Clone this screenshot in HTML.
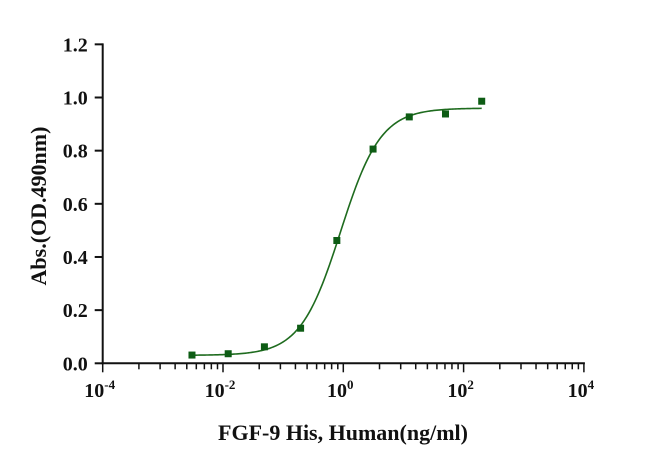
<!DOCTYPE html>
<html><head><meta charset="utf-8"><style>
html,body{margin:0;padding:0;background:#fff;}
svg text{font-family:"Liberation Serif",serif;font-weight:bold;fill:#111;}
</style></head><body>
<svg id="chart" width="651" height="464" xmlns="http://www.w3.org/2000/svg">
<g id="axes"></g>
<g id="plot"></g>
<text x="0" y="0" font-size="22" text-anchor="middle" transform="translate(46,206) rotate(-90)">Abs.(OD.490nm)</text>
<text x="343" y="440" font-size="22" text-anchor="middle">FGF-9 His, Human(ng/ml)</text>
</svg>
<script>
const concentrations = [0.00305, 0.0122, 0.0488, 0.195, 0.781, 3.125, 12.5, 50, 200];
const absorbances = [0.031, 0.036, 0.062, 0.132, 0.462, 0.806, 0.927, 0.938, 0.986];
const yTicks = [0, 0.2, 0.4, 0.6, 0.8, 1.0, 1.2];
const xTickExps = [-4, -2, 0, 2, 4];
const fitBottom = 0.03, fitTop = 0.96, fitEC50 = 0.9, fitHill = 1.3;

const X0 = 102.7, PXDEC = 60.15, Y0 = 363.3, PXUNIT = 265.8;
const xs = v => X0 + (Math.log10(v) + 4) * PXDEC;
const ys = v => Y0 - v * PXUNIT;
const NS = "http://www.w3.org/2000/svg";
const axes = document.getElementById('axes');
const plot = document.getElementById('plot');
function mk(tag, attrs, parent){const e=document.createElementNS(NS,tag);for(const k in attrs)e.setAttribute(k,attrs[k]);parent.appendChild(e);return e;}

let e = mk('line',{x1:X0,y1:ys(1.2)-1,x2:X0,y2:Y0+1,stroke:'#111','stroke-width':2},axes);


e = mk('line',{x1:X0-1,y1:Y0,x2:xs(1e4)+1,y2:Y0,stroke:'#111','stroke-width':2},axes);



yTicks.forEach(t=>{
  const y = ys(t);
  let l = mk('line',{x1:X0-8,y1:y,x2:X0,y2:y,stroke:'#111','stroke-width':2},axes);
  
  
  let tx = mk('text',{x:X0-15,y:y+7,'font-size':20,'text-anchor':'end'},axes);
  
  
  tx.textContent = t.toFixed(1);
});

for(let p=-4; p<4; p+=2){
  for(let k=1; k<10; k++){
    const x = xs(Math.pow(10,p)) + 2*PXDEC*Math.log10(k);
    const len = (k===1) ? 9 : 6;
    let l = mk('line',{x1:x,y1:Y0,x2:x,y2:Y0+len,stroke:'#111','stroke-width':1.5},axes);
    
    
  }
}
let lt = mk('line',{x1:xs(1e4),y1:Y0,x2:xs(1e4),y2:Y0+9,stroke:'#111','stroke-width':1.5},axes);



xTickExps.forEach(p=>{
  const x = xs(Math.pow(10,p));
  let tx = mk('text',{x:x-3,y:397,'font-size':20,'text-anchor':'middle'},axes);
  
  
  tx.textContent = '10';
  let sp = mk('tspan',{dy:-8,'font-size':13},tx);
  sp.textContent = String(p);
});

const lo = Math.log10(concentrations[0]), hi = Math.log10(concentrations[concentrations.length-1]);
let d = '';
for(let i=0;i<=200;i++){
  const lx = lo + (hi-lo)*i/200, v = Math.pow(10,lx);
  const yv = fitBottom + (fitTop-fitBottom)/(1+Math.pow(fitEC50/v, fitHill));
  d += (i?'L':'M') + xs(v).toFixed(2) + ',' + ys(yv).toFixed(2);
}
let c = mk('path',{d:d,fill:'none',stroke:'#1e6b1e','stroke-width':1.6},plot);



concentrations.forEach((v,i)=>{
  let r = mk('rect',{x:xs(v)-3.5,y:ys(absorbances[i])-3.5,width:7,height:7,fill:'#0d5c14'},plot);
  
  
});
</script>
</body></html>
